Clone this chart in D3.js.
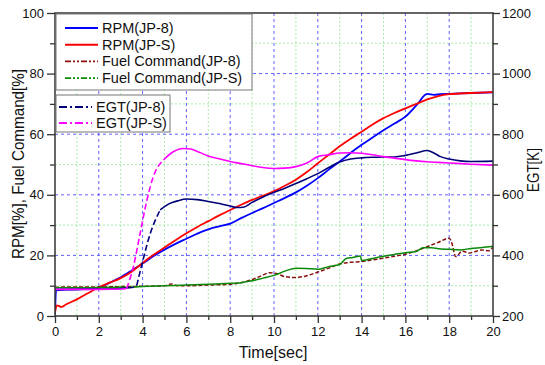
<!DOCTYPE html>
<html>
<head>
<meta charset="utf-8">
<script src="https://cdn.jsdelivr.net/npm/d3@7/dist/d3.min.js"></script>
<style>
  body { margin: 0; background: #fff; }
  text { font-family: "Liberation Sans", Arial, sans-serif; fill: #111; }
</style>
</head>
<body>
<svg id="chart" width="545" height="365"></svg>
<script>
// ---- data (time in sec) ----
var rpmJP8 = [[0,0.5],[0.05,8.5],[0.5,8.7],[1,8.8],[1.5,9],[2,9.3],[2.5,11],[3,12.8],[3.5,15],[4,17.3],[4.5,19.8],[5,21.9],[5.5,23.8],[6,25.5],[6.5,27.2],[7,28.6],[7.5,29.6],[8,30.5],[8.5,32.3],[9,34],[9.5,35.6],[10,37.3],[10.5,39],[11,40.8],[11.5,43],[12,45.5],[12.5,48.3],[13,51],[13.5,53.8],[14,56.5],[14.5,58.9],[15,61.3],[15.5,63.5],[16,65.8],[16.5,69.5],[17,73.3],[17.3,73],[17.6,73.2],[18,73.3],[19,73.6],[20,73.8]];
var rpmJPS = [[0,1],[0.08,3.5],[0.3,3],[0.5,3.8],[1,5.5],[1.5,7.5],[2,9.5],[2.5,11],[3,12.5],[3.5,14.6],[4,17.5],[4.5,20.2],[5,22.6],[5.5,25],[6,27.3],[6.5,29.4],[7,31.3],[7.5,33.2],[8,35],[8.5,36.7],[9,38.3],[9.5,39.7],[10,41.2],[10.5,43],[11,45],[11.5,47.5],[12,50.4],[12.5,53.2],[13,56],[13.5,58.5],[14,60.8],[14.5,63.2],[15,65.3],[15.5,67],[16,68.5],[16.5,70],[17,71.5],[17.5,72.6],[18,73.2],[19,73.6],[20,73.9]];
var fuelJP8 = [[0,9.5],[1,9.6],[2,9.6],[3,9.7],[4,9.8],[5,10],[5.3,10.6],[5.6,10],[6,10],[7,10.2],[8,10.5],[8.5,11],[9,12],[9.5,13.5],[9.8,14.3],[10.1,14],[10.5,13],[11,12.7],[11.5,13.3],[12,14.5],[12.5,15.8],[13,17.2],[13.5,17.7],[14,18],[14.5,18.5],[15,19.1],[15.5,19.7],[16,20.4],[16.5,21.5],[17,22.9],[17.5,24.3],[18,25.7],[18.1,24.5],[18.3,19.6],[18.6,21.4],[18.9,20.8],[19.2,21.3],[19.5,21.8],[19.8,21.5],[20,22.8]];
var fuelJPS = [[0,9.3],[1,9.3],[2,9.4],[3,9.5],[3.5,9.5],[4,9.7],[5,10],[6,10.2],[7,10.5],[8,10.8],[8.5,11],[9,11.6],[9.5,12.5],[10,13.4],[10.5,14.8],[11,15.8],[11.5,15.7],[12,15.4],[12.5,16.3],[13,17],[13.3,19],[13.6,19.3],[13.95,19.8],[14,18.3],[14.5,19],[15,19.7],[15.5,20.3],[16,20.9],[16.5,21.3],[16.8,22.5],[17.2,22.5],[17.5,22.2],[18,22],[18.5,21.8],[19,22.3],[19.5,22.6],[20,23]];
// EGT in K (right axis)
var egtJP8 = [[0,288],[1,288],[2,289],[3,291],[3.6,295],[3.73,300],[3.96,368],[4.34,470],[4.8,550],[5.2,570],[5.6,580],[6,586],[6.5,584],[7,578],[7.5,571],[8,563],[8.3,558],[8.6,559],[9,575],[9.5,593],[10,608],[10.5,622],[11,637],[11.5,653],[12,670],[12.5,690],[13,708],[13.5,718],[14,722],[14.5,724],[15,725],[15.5,725],[16,730],[16.5,738],[17,746],[17.3,738],[17.6,726],[18,718],[18.5,712],[19,710],[20,711]];
var egtJPS = [[0,288],[1,288],[2,288],[3,289],[3.27,291],[3.58,363],[3.88,470],[4.19,580],[4.49,660],[4.95,715],[5.4,742],[5.86,753],[6.2,751],[6.6,740],[7,728],[7.5,719],[8,710],[8.5,703],[9,696],[9.5,690],[10,687],[10.5,688],[11,693],[11.5,705],[12,726],[12.5,732],[13,738],[13.5,739],[14,737],[14.5,732],[15,726],[15.5,721],[16,716],[16.5,712],[17,709],[17.5,707],[18,705],[19,701],[20,698]];

var xMajor = [0,2,4,6,8,10,12,14,16,18,20];
var xMinor = [1,3,5,7,9,11,13,15,17,19];
var yMajor = [0,20,40,60,80,100];
var yMinor = [10,30,50,70,90];
var y2Major = [200,400,600,800,1000,1200];
var y2Minor = [300,500,700,900,1100];

var series = [
  { name: "RPM(JP-8)", data: rpmJP8, axis: "left", color: "#0000ff", width: 1.8, dash: null, legendDash: null, box: 1 },
  { name: "RPM(JP-S)", data: rpmJPS, axis: "left", color: "#ff0000", width: 1.8, dash: null, legendDash: null, box: 1 },
  { name: "Fuel Command(JP-8)", data: fuelJP8, axis: "left", color: "#8b1010", width: 1.5, dash: "4,2", legendDash: "6,2,2,2,2,2", box: 1 },
  { name: "Fuel Command(JP-S)", data: fuelJPS, axis: "left", color: "#0a8a0a", width: 1.5, dash: null, legendDash: "6,2,2,2,2,2", box: 1 },
  { name: "EGT(JP-8)", data: egtJP8, axis: "right", color: "#00007a", width: 1.6, dash: null, steep: [3.7, 4.8], legendDash: "8,3,2,3", box: 2 },
  { name: "EGT(JP-S)", data: egtJPS, axis: "right", color: "#ff00ff", width: 1.6, dash: null, steep: [3.27, 4.95], legendDash: "8,3,2,3", box: 2 }
];

var svg = d3.select("#chart");
var L = 55, R = 493, T = 13, B = 316;

var x = d3.scaleLinear().domain([0, 20]).range([L, R]);
var y = d3.scaleLinear().domain([0, 100]).range([B, T]);
var y2 = d3.scaleLinear().domain([200, 1200]).range([B, T]);

// grid
var grid = svg.append("g");
grid.selectAll(".gxm").data(xMinor).enter().append("line")
  .attr("x1", d => x(d)).attr("x2", d => x(d)).attr("y1", T).attr("y2", B)
  .attr("stroke", "#a8eea8").attr("stroke-dasharray", "2,2");
grid.selectAll(".gym").data(yMinor).enter().append("line")
  .attr("y1", d => y(d)).attr("y2", d => y(d)).attr("x1", L).attr("x2", R)
  .attr("stroke", "#a8eea8").attr("stroke-dasharray", "2,2");
grid.selectAll(".gx").data(xMajor.slice(1, -1)).enter().append("line")
  .attr("x1", d => x(d)).attr("x2", d => x(d)).attr("y1", T).attr("y2", B)
  .attr("stroke", "#6060ff").attr("stroke-dasharray", "3,3");
grid.selectAll(".gy").data(yMajor.slice(1, -1)).enter().append("line")
  .attr("y1", d => y(d)).attr("y2", d => y(d)).attr("x1", L).attr("x2", R)
  .attr("stroke", "#6060ff").attr("stroke-dasharray", "3,3");

// lines
svg.append("clipPath").attr("id", "clip").append("rect")
  .attr("x", L).attr("y", T).attr("width", R - L).attr("height", B - T);
var plot = svg.append("g").attr("clip-path", "url(#clip)");

series.forEach(function (s) {
  var ys = s.axis === "left" ? y : y2;
  var line = d3.line().x(d => x(d[0])).y(d => ys(d[1])).curve(d3.curveMonotoneX);
  if (s.steep) {
    var a = s.steep[0], b = s.steep[1];
    var parts = [
      { d: s.data.filter(p => p[0] <= a), dash: null },
      { d: s.data.filter(p => p[0] >= a && p[0] <= b), dash: "6,3" },
      { d: s.data.filter(p => p[0] >= b), dash: null }
    ];
    parts.forEach(function (pt) {
      plot.append("path").datum(pt.d).attr("d", line)
        .attr("fill", "none").attr("stroke", s.color).attr("stroke-width", s.width)
        .attr("stroke-dasharray", pt.dash);
    });
  } else {
    plot.append("path").datum(s.data).attr("d", line)
      .attr("fill", "none").attr("stroke", s.color).attr("stroke-width", s.width)
      .attr("stroke-dasharray", s.dash);
  }
});

// frame
svg.append("rect").attr("x", L).attr("y", T).attr("width", R - L).attr("height", B - T)
  .attr("fill", "none").attr("stroke", "#333").attr("stroke-width", 1.5);

// axes
function styleAxis(g) {
  g.select(".domain").remove();
  g.selectAll("line").attr("stroke", "#333").attr("stroke-width", 1.3);
  g.selectAll("text").style("font-size", "13px").style("font-family", "Liberation Sans, Arial, sans-serif").attr("fill", "#111");
}
svg.append("g").attr("transform", "translate(0," + B + ")")
  .call(d3.axisBottom(x).tickValues(xMajor).tickSize(7).tickPadding(4).tickFormat(d3.format("d"))).call(styleAxis);
svg.append("g").attr("transform", "translate(0," + B + ")")
  .call(d3.axisBottom(x).tickValues(xMinor).tickSize(4).tickFormat("")).call(styleAxis);
svg.append("g").attr("transform", "translate(" + L + ",0)")
  .call(d3.axisLeft(y).tickValues(yMajor).tickSize(8).tickPadding(3).tickFormat(d3.format("d"))).call(styleAxis);
svg.append("g").attr("transform", "translate(" + L + ",0)")
  .call(d3.axisLeft(y).tickValues(yMinor).tickSize(5).tickFormat("")).call(styleAxis);
svg.append("g").attr("transform", "translate(" + R + ",0)")
  .call(d3.axisRight(y2).tickValues(y2Major).tickSize(7).tickPadding(2).tickFormat(d3.format("d"))).call(styleAxis);
svg.append("g").attr("transform", "translate(" + R + ",0)")
  .call(d3.axisRight(y2).tickValues(y2Minor).tickSize(5).tickFormat("")).call(styleAxis);

// titles
svg.append("text").attr("x", 273).attr("y", 358).attr("text-anchor", "middle")
  .style("font-size", "16px").text("Time[sec]");
svg.append("text").attr("transform", "translate(24,164) rotate(-90)").attr("text-anchor", "middle")
  .style("font-size", "16px").attr("textLength", 190).attr("lengthAdjust", "spacingAndGlyphs")
  .text("RPM[%], Fuel Command[%]");
svg.append("text").attr("transform", "translate(539,170) rotate(-90)").attr("text-anchor", "middle")
  .style("font-size", "16px").attr("textLength", 44).attr("lengthAdjust", "spacingAndGlyphs")
  .text("EGT[K]");

// legends
var boxes = [
  { id: 1, x: 56, y: 14, w: 196, h: 76, rowY: 28, step: 16.7, lx: 65, tx: 102 },
  { id: 2, x: 56, y: 95, w: 114, h: 37, rowY: 107, step: 16, lx: 59, tx: 96 }
];
boxes.forEach(function (bx) {
  var g = svg.append("g");
  g.append("rect").attr("x", bx.x).attr("y", bx.y).attr("width", bx.w).attr("height", bx.h)
    .attr("fill", "#fff").attr("stroke", "#777").attr("stroke-width", 1);
  series.filter(s => s.box === bx.id).forEach(function (s, i) {
    var yy = bx.rowY + i * bx.step;
    g.append("line").attr("x1", bx.lx).attr("x2", bx.lx + 33).attr("y1", yy).attr("y2", yy)
      .attr("stroke", s.color).attr("stroke-width", s.width + 0.3).attr("stroke-dasharray", s.legendDash);
    g.append("text").attr("x", bx.tx).attr("y", yy).attr("dy", "0.35em")
      .style("font-size", "14.5px").text(s.name);
  });
});
</script>
</body>
</html>
